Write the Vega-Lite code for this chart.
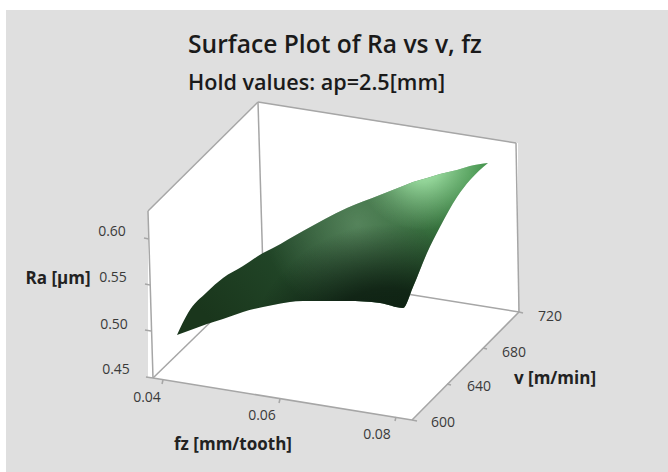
{
"$schema":"https://vega.github.io/schema/vega-lite/v6.json",
"width":668,"height":472,"autosize":{"type":"none"},"padding":0,"background":"#ffffff",
"title":{"text":"Surface Plot of Ra vs v, fz","subtitle":"Hold values: ap=2.5[mm]","anchor":"start","frame":"group","dx":188,"dy":96,"offset":0,"font":"Open Sans","fontSize":24.6,"fontWeight":600,"color":"#1a1a1a","subtitleFont":"Open Sans","subtitleFontSize":21.6,"subtitleFontWeight":600,"subtitleColor":"#1a1a1a","subtitlePadding":14.4},
"config":{"view":{"stroke":null}},
"datasets":{
"panel":[{"x":6,"y":10,"x2":668,"y2":472}],
"wall":[{"x":148,"y":211,"y2":377},{"x":153,"y":206,"y2":378},{"x":258,"y":102,"y2":395},{"x":412,"y":127,"y2":420},{"x":516,"y":143,"y2":314},{"x":518,"y":143,"y2":312}],
"lines":[
{"x":148,"y":211,"x2":258,"y2":102},{"x":258,"y":102,"x2":516,"y2":143},{"x":148,"y":211,"x2":153,"y2":378},{"x":258,"y":102,"x2":263,"y2":271},{"x":516,"y":143,"x2":519,"y2":312},{"x":153,"y":378,"x2":263,"y2":271},{"x":263,"y":271,"x2":519,"y2":312},{"x":153,"y":378,"x2":412,"y2":420},{"x":412,"y":420,"x2":519,"y2":312},
{"x":144,"y":238,"x2":149,"y2":239},{"x":145,"y":284,"x2":150,"y2":285},{"x":145,"y":330,"x2":151,"y2":331},{"x":146,"y":377,"x2":153,"y2":378},
{"x":163,"y":380,"x2":162,"y2":384},{"x":280,"y":399,"x2":279,"y2":403},{"x":396,"y":417,"x2":395,"y2":421},
{"x":412,"y":420,"x2":417,"y2":421},{"x":447,"y":384,"x2":451,"y2":385},{"x":483,"y":348,"x2":487,"y2":349},{"x":519,"y":312,"x2":523,"y2":313}],
"surface":[{"x":177,"y":335,"y2":335},{"x":188,"y":313,"y2":331},{"x":207,"y":292,"y2":324},{"x":223,"y":278,"y2":319},{"x":243,"y":266,"y2":312},{"x":263,"y":253,"y2":307},{"x":273,"y":248,"y2":305},{"x":303,"y":231,"y2":301},{"x":347,"y":208,"y2":301},{"x":380,"y":195,"y2":303},{"x":403,"y":186,"y2":308},{"x":413,"y":182,"y2":287},{"x":427,"y":178,"y2":253},{"x":440,"y":174,"y2":227},{"x":457,"y":170,"y2":197},{"x":470,"y":166,"y2":180},{"x":488,"y":163,"y2":163}],
"ticks":[{"x":112,"y":232,"t":"0.60"},{"x":113,"y":278,"t":"0.55"},{"x":114,"y":325,"t":"0.50"},{"x":116,"y":370,"t":"0.45"},{"x":147,"y":398,"t":"0.04"},{"x":262,"y":416,"t":"0.06"},{"x":377,"y":435,"t":"0.08"},{"x":443,"y":423,"t":"600"},{"x":479,"y":387,"t":"640"},{"x":514,"y":353,"t":"680"},{"x":550,"y":317,"t":"720"}],
"axisTitles":[{"x":58,"y":279,"t":"Ra [µm]"},{"x":233,"y":445,"t":"fz [mm/tooth]"},{"x":555,"y":379,"t":"v [m/min]"}]
},
"encoding":{
"x":{"field":"x","type":"quantitative","scale":{"domain":[0,668]},"axis":null},
"y":{"field":"y","type":"quantitative","scale":{"domain":[472,0]},"axis":null}
},
"layer":[
{"data":{"name":"panel"},"mark":{"type":"rect","fill":"#dfdfdf"},"encoding":{"x2":{"field":"x2"},"y2":{"field":"y2"}}},
{"data":{"name":"wall"},"mark":{"type":"area","fill":"#ffffff"},"encoding":{"y2":{"field":"y2"}}},
{"data":{"name":"lines"},"mark":{"type":"rule","stroke":"#a6a6a6","strokeWidth":1.5},"encoding":{"x2":{"field":"x2"},"y2":{"field":"y2"}}},
{"data":{"name":"surface"},"mark":{"type":"area","interpolate":"monotone","fill":{"gradient":"linear","x1":0,"y1":0.7,"x2":1,"y2":0.2,"stops":[{"offset":0,"color":"#1a361c"},{"offset":0.4,"color":"#23492a"},{"offset":0.75,"color":"#2b6232"},{"offset":1,"color":"#3f8f48"}]}},"encoding":{"y2":{"field":"y2"}}},
{"data":{"name":"surface"},"mark":{"type":"area","interpolate":"monotone","fill":{"gradient":"radial","x1":0.58,"y1":0.42,"r1":0,"x2":0.58,"y2":0.42,"r2":0.3,"stops":[{"offset":0,"color":"rgba(130,175,135,0.5)"},{"offset":1,"color":"rgba(130,175,135,0)"}]}},"encoding":{"y2":{"field":"y2"}}},
{"data":{"name":"surface"},"mark":{"type":"area","interpolate":"monotone","fill":{"gradient":"radial","x1":0.79,"y1":0.22,"r1":0,"x2":0.79,"y2":0.22,"r2":0.22,"stops":[{"offset":0,"color":"rgba(172,235,176,1)"},{"offset":0.3,"color":"rgba(160,225,165,0.85)"},{"offset":1,"color":"rgba(140,200,145,0)"}]}},"encoding":{"y2":{"field":"y2"}}},
{"data":{"name":"surface"},"mark":{"type":"area","interpolate":"monotone","fill":{"gradient":"radial","x1":0.68,"y1":0.88,"r1":0,"x2":0.68,"y2":0.88,"r2":0.46,"stops":[{"offset":0,"color":"rgba(10,25,14,0.95)"},{"offset":0.55,"color":"rgba(10,25,14,0.8)"},{"offset":1,"color":"rgba(10,25,14,0)"}]}},"encoding":{"y2":{"field":"y2"}}},
{"data":{"name":"ticks"},"mark":{"type":"text","font":"Open Sans","fontSize":14,"color":"#3a3a3a","align":"center","baseline":"middle"},"encoding":{"text":{"field":"t"}}},
{"data":{"name":"axisTitles"},"mark":{"type":"text","font":"Open Sans","fontSize":17,"fontWeight":"bold","color":"#222222","align":"center","baseline":"middle"},"encoding":{"text":{"field":"t"}}}
]
}
